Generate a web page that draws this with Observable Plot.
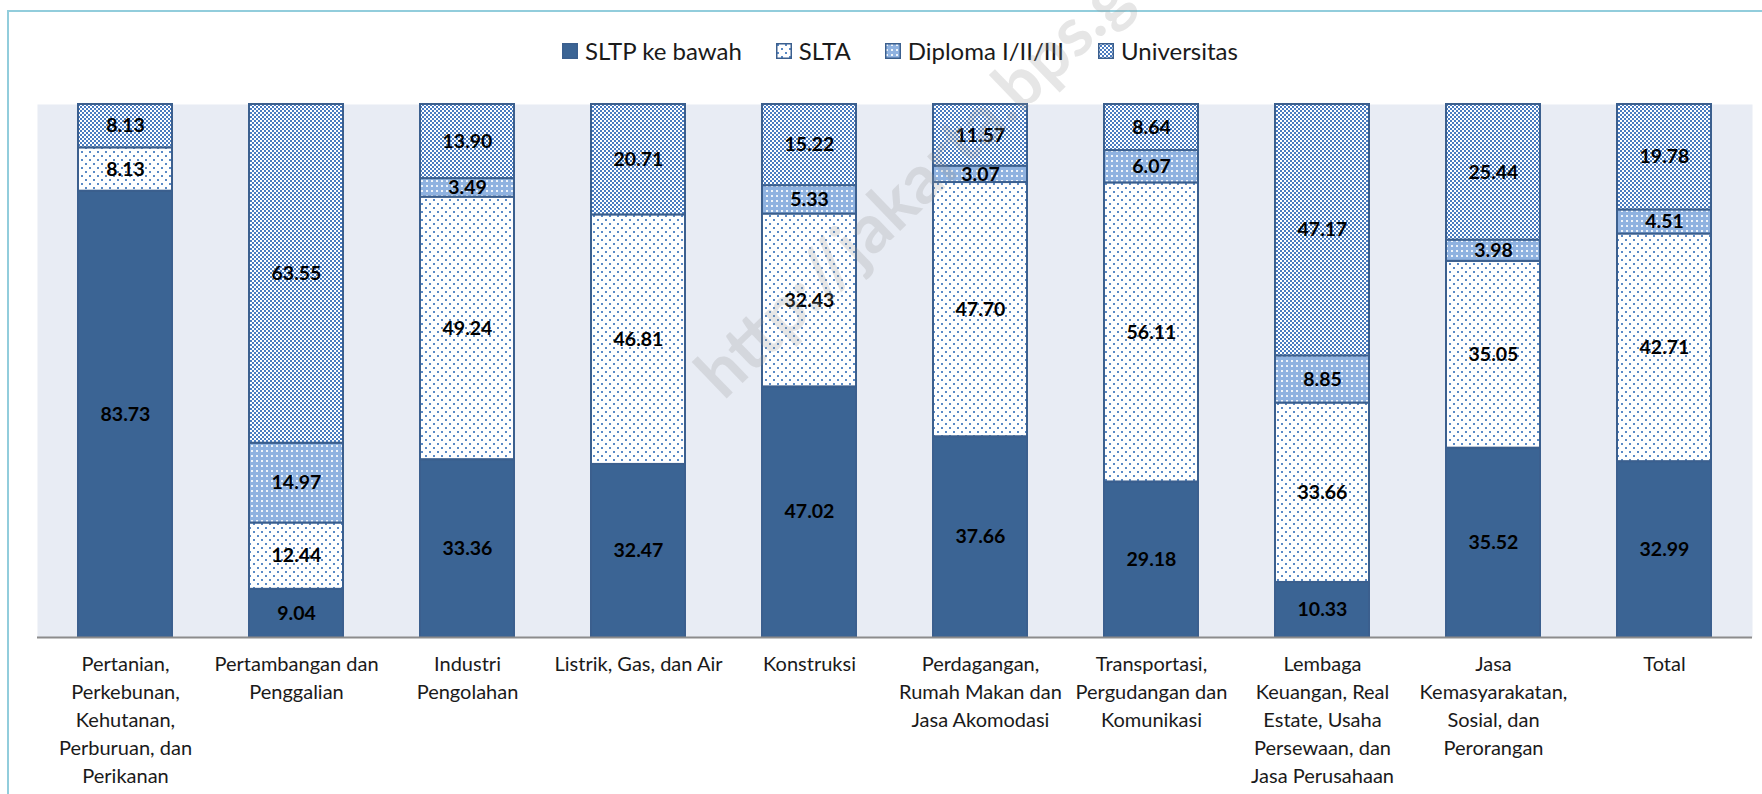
<!DOCTYPE html>
<html>
<head>
<meta charset="utf-8">
<script src="https://cdn.jsdelivr.net/npm/d3@7"></script>
<script src="https://cdn.jsdelivr.net/npm/@observablehq/plot@0.6"></script>
<style>
  html, body { margin: 0; padding: 0; background: #fff; }
  #wrap { position: relative; width: 1762px; height: 794px; overflow: hidden; font-family: Lato, "Noto Sans", sans-serif; }
  #btop { position: absolute; left: 7px; top: 10px; width: 1755px; height: 2px; background: #92CDDC; }
  #bleft { position: absolute; left: 7px; top: 10px; width: 2px; height: 784px; background: #92CDDC; }
  #legend { position: absolute; left: 562px; top: 36px; display: flex; align-items: center; font-size: 24px; color: #1a1a1a; white-space: nowrap; }
  #legend .item { display: flex; align-items: center; margin-right: 34px; }
  #legend .item:last-child { margin-right: 0; }
  #legend svg { margin-right: 7px; }
  #chart { position: absolute; left: 0; top: 94px; }
  #wm { position: absolute; left: 951px; top: 145px; transform: translate(-50%, -50%) rotate(-44deg); font-size: 68px; font-weight: bold; color: rgba(150,150,150,0.24); white-space: nowrap; pointer-events: none; }
</style>
</head>
<body>
<div id="wrap">
  <svg width="0" height="0" style="position:absolute">
    <defs>
      <pattern id="pSLTA" width="8" height="8" patternUnits="userSpaceOnUse">
        <rect width="8" height="8" fill="#ffffff"/>
        <rect x="1" y="1" width="2" height="2" fill="#5A8AC6"/>
        <rect x="5" y="5" width="2" height="2" fill="#5A8AC6"/>
      </pattern>
      <pattern id="pDIP" width="5" height="5" patternUnits="userSpaceOnUse">
        <rect width="5" height="5" fill="#8FB2E0"/>
        <rect x="1" y="1" width="2" height="2" fill="#ffffff" fill-opacity="0.85"/>
      </pattern>
      <pattern id="pUNI" width="4" height="4" patternUnits="userSpaceOnUse">
        <rect width="4" height="4" fill="#ffffff"/>
        <rect x="0" y="0" width="2" height="2" fill="#4A7CC0"/>
        <rect x="2" y="2" width="2" height="2" fill="#4A7CC0"/>
      </pattern>
    </defs>
  </svg>
  <div id="btop"></div>
  <div id="bleft"></div>
  <div id="legend"></div>
  <div id="chart"></div>
  <div id="wm">http://jakarta.bps.go.id</div>
</div>
<script>
// ---- data ----
const categories = ["Pertanian", "Pertambangan", "Industri", "Listrik", "Konstruksi", "Perdagangan", "Transportasi", "Lembaga", "Jasa", "Total"];
const tickLabels = [
  "Pertanian,\nPerkebunan,\nKehutanan,\nPerburuan, dan\nPerikanan",
  "Pertambangan dan\nPenggalian",
  "Industri\nPengolahan",
  "Listrik, Gas, dan Air",
  "Konstruksi",
  "Perdagangan,\nRumah Makan dan\nJasa Akomodasi",
  "Transportasi,\nPergudangan dan\nKomunikasi",
  "Lembaga\nKeuangan, Real\nEstate, Usaha\nPersewaan, dan\nJasa Perusahaan",
  "Jasa\nKemasyarakatan,\nSosial, dan\nPerorangan",
  "Total"
];
const series = ["SLTP ke bawah", "SLTA", "Diploma I/II/III", "Universitas"];
const sltp    = [83.73, 9.04, 33.36, 32.47, 47.02, 37.66, 29.18, 10.33, 35.52, 32.99];
const slta    = [8.13, 12.44, 49.24, 46.81, 32.43, 47.70, 56.11, 33.66, 35.05, 42.71];
const diploma = [0, 14.97, 3.49, 0, 5.33, 3.07, 6.07, 8.85, 3.98, 4.51];
const univ    = [8.13, 63.55, 13.90, 20.71, 15.22, 11.57, 8.64, 47.17, 25.44, 19.78];

const fills = ["#3B6494", "url(#pSLTA)", "url(#pDIP)", "url(#pUNI)"];

const valuesBySeries = [sltp, slta, diploma, univ];
const rows = [];
categories.forEach((c, i) => {
  series.forEach((s, j) => {
    const v = valuesBySeries[j][i];
    if (v > 0) rows.push({category: c, series: s, value: v});
  });
});
const labelOf = new Map(categories.map((c, i) => [c, tickLabels[i]]));

// ---- legend ----
const legend = document.getElementById("legend");
series.forEach((s, j) => {
  const item = document.createElement("div");
  item.className = "item";
  item.innerHTML = `<svg width="16" height="16"><rect x="0.75" y="0.75" width="14.5" height="14.5" fill="${fills[j]}" stroke="#3B5F8E" stroke-width="1.5"/></svg><span>${s}</span>`;
  legend.appendChild(item);
});

// ---- chart ----
const stackOpts = {x: "category", y: "value", z: "series", order: series, offset: "normalize"};
const chart = Plot.plot({
  width: 1762,
  height: 700,
  marginLeft: 37,
  marginRight: 10,
  marginTop: 10,
  marginBottom: 157,
  style: {fontFamily: "Lato, 'Noto Sans', sans-serif", color: "#1a1a1a", background: "transparent"},
  x: {domain: categories, paddingInner: 0.452, paddingOuter: 0.226, label: null},
  y: {domain: [0, 1], axis: null},
  color: {domain: series, range: fills},
  marks: [
    Plot.frame({fill: "#E8ECF4", stroke: "none"}),
    Plot.barY(rows, Plot.stackY({...stackOpts, fill: "series", stroke: "#3B5F8E", strokeWidth: 2})),
    Plot.ruleY([0], {stroke: "#8C8C8C", strokeWidth: 2}),
    Plot.text(rows, Plot.stackY({...stackOpts, text: d => d.value.toFixed(2), fill: "#000", fontSize: 19.5, fontWeight: "bold"})),
    Plot.axisX({tickSize: 0, tickPadding: 14, fontSize: 20, lineHeight: 1.4, tickFormat: d => labelOf.get(d), label: null})
  ]
});
document.getElementById("chart").appendChild(chart);
</script>
</body>
</html>
